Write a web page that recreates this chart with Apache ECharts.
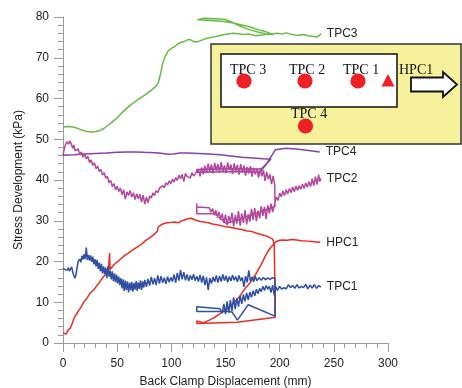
<!DOCTYPE html>
<html>
<head>
<meta charset="utf-8">
<script src="https://cdn.jsdelivr.net/npm/echarts@6/dist/echarts.min.js"></script>
<style>
  html, body { margin: 0; padding: 0; background: #fff; }
  #chart { width: 462px; height: 388px; }
</style>
</head>
<body>
<div id="chart"></div>
<script>
// x ticks / y ticks
const xTicks = [0, 50, 100, 150, 200, 250, 300];
const yTicks = [0, 10, 20, 30, 40, 50, 60, 70, 80];

// TPC3 (green)
const tpc3 = [[0,53],[5,53.1],[9.5,53],[14,52.6],[18,52.2],[22,51.9],[26.5,51.8],[30,51.9],[34,52.1],[38,52.7],[42,53.5],[46,54.4],[50,55.2],[54,56.4],[58,57.4],[62,58.3],[66.5,59.2],[70,59.9],[74,60.6],[78,61.3],[82,62.1],[86,63.1],[88,63.9],[90,66],[92,68.6],[94,70.2],[97,71.6],[100,72.3],[103,72.7],[106,73.4],[109,73.8],[112,74],[115,74.4],[117,74.5],[119,74.2],[121,73.9],[123.5,73.9],[127,74.2],[132,74.7],[137,75],[142,75.3],[147,75.6],[152,75.8],[157,76],[162,75.9],[167,75.7],[172,75.8],[178,75.4],[184,75.6],[189,75.8],[194,75.7],
  [188,76.3],[180,76.9],[172,77.6],[164,78.1],[156,78.6],[148,78.9],[140,79.1],[132,79.2],[124,79.3],[123.5,79.6],[130,79.7],[140,79.6],[150,79.4],[156,78.7],[164,77.7],[172,76.9],[180,76.3],[188,75.8],[194,75.9],
  [198,76],[202,75.8],[206,76.1],[210,75.8],[214,75.6],[218,75.5],[222,75.7],[226,75.4],[230,75.3],[234,75.1],[237,75.5],[238,76]];

// TPC4 (purple)
const tpc4 = [[0,46.1],[10,46.2],[20,46.4],[30,46.5],[40,46.6],[50,46.8],[60,46.9],[66,46.9],[75,46.8],[85,46.7],[92,46.5],[97,46.3],[102,46.4],[108,46.6],[115,46.6],[125,46.5],[135,46.4],[145,46.2],[155,45.9],[165,45.6],[175,45.4],[185,45.2],[192,45.1],
  [183,42.7],[150,42.7],[123.5,42.6],[123.5,41.9],[150,42],[182,42],[188,44],[196,47.4],[206,47.8],[215,47.6],[225,47.3],[237,46.9]];

// TPC2 (magenta)
const tpc2 = [[0,46.1],[2,48.5],[3.5,49.4],[5,48.8],[6.5,49.6],[8,49.2],[9,47.8],[10,48.6],[11,47.2],[12.5,46.8],[14,47.6],[15.5,46.2],[17,46.9],[18.5,45.6],[20,46.3],[21.5,45.2],[23,45.8],[24.5,44.3],[26,44.9],[27.5,43.6],[29,44.2],[30.5,42.8],[32,43.4],[33.5,42.1],[35,42.6],[36.5,41.2],[38,41.8],[39.5,40.4],[41,40.9],[42.5,39.3],[44,39.9],[45.5,38.4],[47,39.1],[48.5,37.6],[50,38.5],[51.5,37.2],[53,38],[54.5,36.4],[56,37.6],[57.5,35.3],[59,37.1],[60.5,36.2],[62,37.4],[63.5,35.8],[65,36.9],[66.5,35.2],[68,36.6],[69.5,35.4],[71,36.5],[72.5,34.6],[74,36.3],[75.5,34.1],[77,35.8],[78.5,34.4],[80,36.1],[81.5,35.6],[83,36.8],[84.5,36.2],[86,37.4],[87.5,36.9],[89,38],[90.5,37.6],[92,38.6],[93.5,38.1],[95,39.3],[96.5,38.8],[98,39.8],[99.5,39.1],[101,40.2],[102.5,39.5],[104,40.6],[105.5,39.9],[107,41.2],[108.5,40.3],[110,41.4],[111.5,39.6],[113,41.6],[114.5,40.9],[116,41.2],[117.5,40.5],[119,41.8],[120.5,41],[122,41.5],
  [123.5,41.2],[125,42.6],[126.5,40.9],[128,43.1],[129.5,41.4],[131,43.5],[132.5,41.8],[134,44],[135.5,42],[137,43.8],[138.5,41.6],[140,44.2],[141.5,42.3],[143,43.9],[144.5,41.9],[146,44.4],[147.5,42.1],[149,43.6],[150.5,41.7],[152,44.3],[153.5,42.4],[155,43.8],[156.5,41.5],[158,44.1],[159.5,42.2],[161,43.7],[162.5,41.3],[164,43.9],[165.5,41.8],[167,43.5],[168.5,41.1],[170,43.2],[171.5,41.6],[173,43.4],[174.5,40.8],[176,43],[177.5,41.4],[179,42.8],[180.5,40.6],[182,42.6],[183.5,40.9],[185,42.4],[186.5,39.8],[188,42],[189.5,40.2],[191,41.4],[192.5,39],[194,41],[195.5,38.6],[195.7,33.5],
  [151,29.3],[140,31.7],[123.5,31.7],[123.5,34.3],[123.5,33.4],
  [135,33.2],[136.5,32.1],[138,33],[139.5,31.4],[141,32.6],[142.5,30.8],[144,32.2],[145.5,30.2],[147,31.8],[148.5,29.4],[150,31.5],[151.5,28.9],[153,31.2],[154.5,29.6],[156,32],[157.5,28.6],[159,31.4],[160.5,29.3],[162,32.4],[163.5,28.8],[165,31.8],[166.5,29.5],[168,32.6],[169.5,29.1],[171,31.6],[172.5,29.8],[174,32.9],[175.5,30.2],[177,33.1],[178.5,29.9],[180,32.5],[181.5,30.6],[183,33.6],[184.5,31.2],[186,33.4],[187.5,30.4],[189,33.8],[190.5,31.8],[192,34.2],[193.5,32.1],[195.7,34.5],
  [197,35.8],[198.5,35],[200,36.8],[201.5,35.9],[203,37.3],[204.5,36.2],[206,37.6],[207.5,36.6],[209,37.9],[210.5,36.9],[212,38.3],[213.5,37.1],[215,38.5],[216.5,37.4],[218,38.6],[219.5,37.7],[221,39],[222.5,37.9],[224,39.3],[225.5,38.2],[227,39.6],[228.5,38.4],[230,40.3],[231.5,38.6],[233,40.8],[234.5,38.9],[236,41.3],[237,39.6],[238,40.4]];

// HPC1 (red)
const hpc1 = [[0,2.4],[1.5,2.8],[3,2.2],[4.5,3.1],[6.5,3.6],[8,4.4],[9.5,5.6],[11,6.5],[13,7.3],[15,8.2],[17,8.9],[19,10],[21,10.6],[23,11.4],[25,12.3],[27,12.7],[29.5,13.4],[31.5,14.2],[33.5,14.8],[35.5,15.6],[37.5,16.3],[39.5,16.8],[41,17.4],[42,18.1],[43,22.1],[43.5,18],[45,18.4],[47,19.2],[49,19.7],[51,20.1],[54,20.8],[57,21.5],[60,22],[63,22.6],[66.5,23.2],[70,23.8],[73,24.4],[77,25.3],[80,25.8],[83,26.4],[85,26.9],[87,27.4],[88,28.5],[90,28.9],[92,29.2],[94,29.4],[97,29.5],[100,29.6],[103,29.7],[106.5,29.5],[109,29.9],[112,30.2],[115,30.5],[118,30.6],[121,30.3],[124,30],[127,29.8],[130,29.7],[134,29.5],[138,29.2],[142,29],[146,28.8],[150,28.5],[154,28.4],[158,28.2],[162,28],[166,27.8],[170,27.5],[174,27.4],[178,27],[182,26.7],[186,26.4],[190,26],[193.5,25.5],[195,24.3],
  [196,6.3],[161,5.1],[123.5,4.8],[123.5,5.4],[130,5],[135,5.6],[140,6.3],[145,7.2],[150,8.1],[154,8.8],[158,10],[163,11.4],[166,12.6],[169,13.7],[172.5,14.7],[175,15.8],[178,16.9],[180,17.9],[183,19.3],[186.5,21.2],[189,22.4],[191,23.2],[194,24.1],[197,24.9],
  [200,25.2],[203,25.3],[207,25.2],[211,25.4],[215.7,25.3],[220,25.1],[225,25],[230,24.9],[234,24.8],[237.5,24.7]];

// TPC1 (blue)
const tpc1 = [[0,18.3],[2,18],[4,17.9],[5,18.5],[6,17.6],[8,18.7],[9,17.4],[10,16.5],[11,15.9],[12,16.8],[13,18.5],[14,20],[15.5,20.6],[16.5,19.8],[17.5,21.4],[18.5,20.5],[19.5,21.8],[20.5,20.6],[21.5,23.4],[22.5,20.4],[23.5,21.6],[24.5,20.2],[25.5,21.5],[26.5,19.9],[27.5,21.2],[28.5,19.3],[29.5,20.6],[30.5,18.8],[31.5,20.4],[32.5,18.2],[33.5,19.7],[34.5,17.6],[35.5,19.4],[36.5,17.1],[37.5,18.8],[38.5,16.9],[39.5,18.5],[40.5,15.9],[41.5,18.9],[42.5,16.3],[43.5,17.8],[44.5,15.6],[45.5,17.6],[46.5,15.2],[47.5,17.1],[48.5,14.9],[49.5,16.8],[50.5,14.6],[51.5,16.3],[52.5,14.2],[53.5,15.9],[54.5,13.4],[55.5,15.6],[56.5,12.8],[57.5,15.3],[58.5,13],[59.5,15.1],[60.5,12.4],[61.5,14.8],[62.5,12.9],[63.5,15],[64.5,12.6],[65.5,14.7],[66.5,13.1],[67.5,15.2],[68.5,12.8],[69.5,14.9],[70.5,13.3],[71.5,15.4],[72.5,13],[73.5,15.1],[74.5,13.6],[75.5,15.5],[77,13.8],[78.5,15.7],[80,14.1],[81.5,16.2],[83,14.4],[84.5,15.9],[86,14.2],[87.5,16.6],[89,14.6],[90.5,16.4],[92,14.8],[93.5,16],[95,14.5],[96.5,16.3],[98,14.9],[99.5,16.1],[101,15.1],[102.5,16.8],[104,14.8],[105.5,17.2],[107,15.3],[108.5,17.9],[110,15.6],[111.5,17.4],[113,15.4],[114.5,16.8],[116,15.2],[117.5,16.6],[119,15.5],[120.5,16.9],[122,15.3],[123.5,16.4],[125,15.1],[126.5,16.7],[128,14.8],[129.5,16.5],[131,14.2],[132.5,16.1],[134,13],[135.5,15.9],[137,14.6],[138.5,16.2],[140,15],[141.5,16.6],[143,14.8],[144.5,16.4],[146,15.1],[147.5,16.8],[149,15.3],[150.5,16.5],[152,14.9],[153.5,16.3],[155,15.2],[156.5,16.7],[158,15.4],[159.5,16.3],[161,15],[162.5,16.6],[164,15.2],[165.5,16.1],[167,13.8],[168.5,16.4],[170,14.9],[171.5,17.8],[173,15.2],[174.5,16.2],[176,15],[177.5,16.4],[179,15.3],[181,16],[183,15.4],[185,16.1],[187,15.5],[189,16],[191,15.6],[193,16],[195.7,15.9],
  [195.7,6.6],[171,9.4],[161,5.6],[156,7.6],[150,7.8],[123.5,7.7],[123.5,8.9],[145,8.4],
  [147,7.3],[148.5,9.6],[150,7.1],[151.5,10.2],[153,7.4],[154.5,10.5],[156,7.9],[157.5,11.2],[159,8.3],[160.5,11],[162,8.9],[163.5,11.6],[165,9.6],[166.5,11.9],[168,10.2],[169.5,12.3],[171,10.6],[172.5,12.5],[174,11.2],[175.5,12.8],[177,11.6],[178.5,13.2],[180,12.1],[181.5,13.4],[183,12.6],[184.5,13.9],[186,12.9],[187.5,14.1],[189,13.2],[190.5,13.9],[192,12.4],[193.5,14.2],[195,11.7],[196.5,13.8],[198,12.9],
  [200,13.9],[202,13.2],[204,13.6],[206,13.3],[208,14.3],[210,13.6],[212,14.1],[214,13.4],[216,14.3],[218,13.5],[220,13.9],[222,13.6],[224,14.4],[226,13.3],[228,14.2],[230,13.5],[232,14.3],[234,13.4],[236,14.1],[238,13.7]];

const seriesNames = ['TPC3', 'TPC4', 'TPC2', 'HPC1', 'TPC1'];
const seriesColors = ['#66bb44', '#8a3ea6', '#b4479c', '#ee2b25', '#2f4fa2'];
const seriesData = [tpc3, tpc4, tpc2, hpc1, tpc1];

const chart = echarts.init(document.getElementById('chart'), null, { renderer: 'canvas' });

const serif = '14px "Liberation Serif", "Times New Roman", serif';

const option = {
  animation: false,
  textStyle: { fontFamily: '"Liberation Sans", Arial, sans-serif' },
  grid: { left: 63, right: 74, top: 17, bottom: 45, outerBoundsMode: 'none', containLabel: false },
  xAxis: {
    type: 'value',
    min: xTicks[0],
    max: xTicks[xTicks.length - 1],
    interval: 50,
    name: 'Back Clamp Displacement (mm)',
    nameLocation: 'middle',
    nameGap: 33,
    nameTextStyle: { fontSize: 12, color: '#222' },
    axisLine: { show: true, lineStyle: { color: '#9a9a9a', width: 1 } },
    axisTick: { show: true, length: 9, lineStyle: { color: '#9a9a9a' } },
    minorTick: { show: true, splitNumber: 5, length: 5, lineStyle: { color: '#9a9a9a' } },
    splitLine: { show: false },
    axisLabel: { fontSize: 12, color: '#222', margin: 15 }
  },
  yAxis: {
    type: 'value',
    min: yTicks[0],
    max: yTicks[yTicks.length - 1],
    interval: 10,
    name: 'Stress Development (kPa)',
    nameLocation: 'middle',
    nameGap: 36,
    nameTextStyle: { fontSize: 12, color: '#222' },
    axisLine: { show: true, lineStyle: { color: '#9a9a9a', width: 1 } },
    axisTick: { show: true, length: 9, lineStyle: { color: '#9a9a9a' } },
    minorTick: { show: true, splitNumber: 5, length: 5, lineStyle: { color: '#9a9a9a' } },
    splitLine: { show: false },
    axisLabel: { fontSize: 12, color: '#222', margin: 14 }
  },
  series: seriesData.map((d, i) => ({
    name: seriesNames[i],
    type: 'line',
    data: d,
    showSymbol: false,
    symbol: 'none',
    lineStyle: { color: seriesColors[i], width: 1.5 },
    itemStyle: { color: seriesColors[i] },
    endLabel: {
      show: true,
      formatter: seriesNames[i],
      color: '#222',
      fontSize: 12,
      distance: 6
    }
  })),
  graphic: [
    {
      type: 'group',
      z: 100,
      children: [
        { type: 'rect', shape: { x: 211, y: 44, width: 250, height: 100 },
          style: { fill: '#f7f19c', stroke: '#333', lineWidth: 1.5 } },
        { type: 'rect', shape: { x: 221, y: 54, width: 176, height: 53 },
          style: { fill: '#ffffff', stroke: '#111', lineWidth: 1.5 } },
        { type: 'text', style: { text: 'TPC 3', x: 230, y: 70, font: serif, fill: '#111', verticalAlign: 'middle' } },
        { type: 'text', style: { text: 'TPC 2', x: 289, y: 70, font: serif, fill: '#111', verticalAlign: 'middle' } },
        { type: 'text', style: { text: 'TPC 1', x: 343, y: 70, font: serif, fill: '#111', verticalAlign: 'middle' } },
        { type: 'text', style: { text: 'HPC1', x: 399, y: 70, font: serif, fill: '#111', verticalAlign: 'middle' } },
        { type: 'text', style: { text: 'TPC 4', x: 291, y: 114, font: serif, fill: '#111', verticalAlign: 'middle' } },
        { type: 'circle', shape: { cx: 244, cy: 81, r: 7.6 }, style: { fill: '#ee2026' } },
        { type: 'circle', shape: { cx: 305, cy: 81, r: 7.6 }, style: { fill: '#ee2026' } },
        { type: 'circle', shape: { cx: 358, cy: 81, r: 7.6 }, style: { fill: '#ee2026' } },
        { type: 'circle', shape: { cx: 305.5, cy: 126, r: 7.6 }, style: { fill: '#ee2026' } },
        { type: 'polygon', shape: { points: [[388, 74], [381.5, 86.5], [394.5, 86.5]] }, style: { fill: '#ee2026' } },
        { type: 'polygon',
          shape: { points: [[411, 77.5], [443, 77.5], [443, 72], [457, 84.5], [443, 97], [443, 91.5], [411, 91.5]] },
          style: { fill: '#ffffff', stroke: '#111', lineWidth: 1.8 } }
      ]
    }
  ]
};

chart.setOption(option);
</script>
</body>
</html>
